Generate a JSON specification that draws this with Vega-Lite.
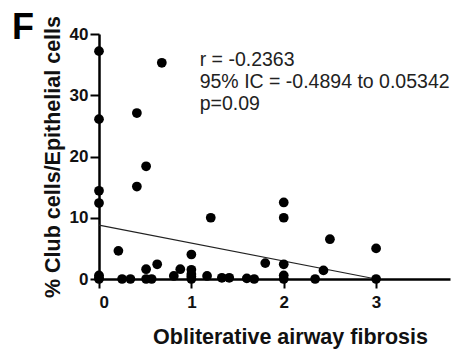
{
  "$schema": "https://vega.github.io/schema/vega-lite/v6.json",
  "width": 351,
  "height": 245,
  "autosize": {"type": "none"},
  "padding": {"left": 99, "top": 34, "right": 11, "bottom": 71},
  "background": "white",
  "config": {
    "view": {"stroke": null},
    "font": "Liberation Sans",
    "axis": {"grid": false, "domainColor": "black", "domainWidth": 2.5, "tickColor": "black", "tickWidth": 2, "tickSize": 9, "labelFont": "Liberation Sans", "labelFontWeight": "bold", "labelFontSize": 17, "labelColor": "#111", "titleFont": "Liberation Sans", "titleFontWeight": "bold", "titleFontSize": 21.5, "titleColor": "#111"}
  },
  "title": {"text": "F", "anchor": "start", "frame": "group", "fontSize": 36, "fontWeight": "bold", "font": "Liberation Sans", "color": "black", "dx": -87, "dy": 59, "offset": 0, "baseline": "alphabetic"},
  "datasets": {
    "points": [
      {"x": 0, "y": 37.2}, {"x": 0, "y": 26.1}, {"x": 0, "y": 14.4}, {"x": 0, "y": 12.4},
      {"x": 0, "y": 0.6}, {"x": 0, "y": 0.2}, {"x": 0, "y": 0},
      {"x": 0.21, "y": 4.6}, {"x": 0.25, "y": 0}, {"x": 0.34, "y": 0},
      {"x": 0.41, "y": 27.1}, {"x": 0.41, "y": 15.1}, {"x": 0.51, "y": 18.4},
      {"x": 0.51, "y": 1.6}, {"x": 0.51, "y": 0}, {"x": 0.57, "y": 0},
      {"x": 0.63, "y": 2.4}, {"x": 0.68, "y": 35.3}, {"x": 0.81, "y": 0.5}, {"x": 0.88, "y": 1.6},
      {"x": 1, "y": 4.0}, {"x": 1, "y": 1.5}, {"x": 1, "y": 0.8}, {"x": 1, "y": 0.4}, {"x": 1, "y": 0},
      {"x": 1.17, "y": 0.5}, {"x": 1.21, "y": 10.0}, {"x": 1.33, "y": 0.2}, {"x": 1.41, "y": 0.2},
      {"x": 1.6, "y": 0.1}, {"x": 1.68, "y": 0}, {"x": 1.8, "y": 2.6},
      {"x": 2, "y": 12.5}, {"x": 2, "y": 10.0}, {"x": 2, "y": 2.4}, {"x": 2, "y": 0.6}, {"x": 2, "y": 0},
      {"x": 2.34, "y": 0}, {"x": 2.43, "y": 1.4}, {"x": 2.5, "y": 6.5},
      {"x": 3, "y": 5.0}, {"x": 3, "y": 0}
    ],
    "fit": [{"x": 0, "y": 8.8}, {"x": 3, "y": 0}],
    "notes": [
      {"x": 1.09, "y": 35.8, "t": "r = -0.2363"},
      {"x": 1.09, "y": 32.2, "t": "95% IC = -0.4894 to 0.05342"},
      {"x": 1.09, "y": 28.5, "t": "p=0.09"}
    ]
  },
  "layer": [
    {
      "data": {"name": "fit"},
      "mark": {"type": "line", "color": "#222", "strokeWidth": 1.2, "clip": false},
      "encoding": {
        "x": {"field": "x", "type": "quantitative", "scale": {"domain": [0, 3.8], "nice": false},
              "axis": {"values": [0, 1, 2, 3], "format": "d", "title": "Obliterative airway fibrosis", "labelPadding": 6, "titlePadding": 16, "titleX": 191, "titleAlign": "center"}},
        "y": {"field": "y", "type": "quantitative", "scale": {"domain": [0, 40], "nice": false},
              "axis": {"values": [0, 10, 20, 30, 40], "format": "d", "title": "% Club cells/Epithelial cells", "labelPadding": 2, "titlePadding": 5}}
      }
    },
    {
      "data": {"name": "points"},
      "mark": {"type": "point", "filled": true, "color": "black", "opacity": 1, "size": 95, "clip": false},
      "encoding": {
        "x": {"field": "x", "type": "quantitative"},
        "y": {"field": "y", "type": "quantitative"}
      }
    },
    {
      "data": {"name": "notes"},
      "mark": {"type": "text", "align": "left", "baseline": "middle", "fontSize": 19.5, "color": "#222", "font": "Liberation Sans"},
      "encoding": {
        "x": {"field": "x", "type": "quantitative"},
        "y": {"field": "y", "type": "quantitative"},
        "text": {"field": "t"}
      }
    }
  ]
}
